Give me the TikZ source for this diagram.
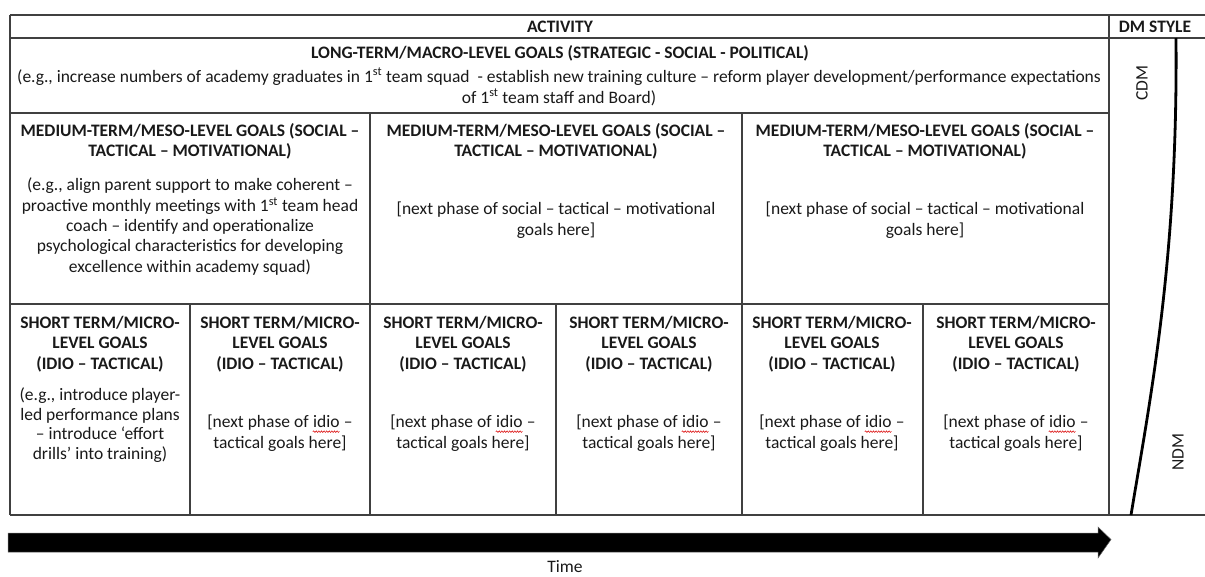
\documentclass[tikz,border=0pt]{standalone}
\usepackage{fontspec}
\setmainfont{Carlito}
\usetikzlibrary{decorations.pathmorphing}
\newcommand\rwave[1]{\tikz[baseline=0pt,x=1pt,y=1pt]{\node[inner sep=0pt,anchor=base west] (w) at (0,0) {#1};\draw[red!85!black,line width=0.5pt,decorate,decoration={snake,amplitude=0.8pt,segment length=2.6pt}] ([yshift=-3.8pt]w.base west) -- ([yshift=-3.8pt]w.base east);}}
\newcommand\fs{\fontsize{17.5}{20.3}\selectfont}
\begin{document}
\begin{tikzpicture}[x=1pt,y=-1pt,
  grid/.style={draw=black!75, line width=1.2pt},
  txt/.style={inner sep=0pt, align=center, anchor=north, font=\fs, text=black!90},
  btxt/.style={txt, font=\fs\bfseries},
  dmcurve/.style={line width=2.8pt, black},
  timearrow/.style={fill=black, draw=black!60, line width=0.5pt}]
\useasboundingbox (0,0) rectangle (1205,576);
% grid
\draw[grid] (10,15) -- (1210,15);
\draw[grid] (10,38) -- (1210,38);
\draw[grid] (10,113) -- (1109,113);
\draw[grid] (10,304) -- (1109,304);
\draw[grid] (10,515) -- (1210,515);
\draw[grid] (10,15) -- (10,515);
\draw[grid] (1109,15) -- (1109,515);
\draw[grid] (370,113) -- (370,515);
\draw[grid] (742,113) -- (742,515);
\draw[grid] (190,304) -- (190,515);
\draw[grid] (556,304) -- (556,515);
\draw[grid] (923,304) -- (923,515);
% header
\node[btxt] (act) at (560,20.5) {ACTIVITY};
\node[btxt] (dm) at (1155,20.5) {DM STYLE};
% long term
\node[btxt] (lt) at (560,45.5) {LONG-TERM/MACRO-LEVEL GOALS (STRATEGIC - SOCIAL - POLITICAL)};
\node[txt, font=\fontsize{17.5}{21}\selectfont] (ltb) at (559,68) {(e.g., increase numbers of academy graduates in 1\textsuperscript{st} team squad\ \ - establish new training culture -- reform player development/performance expectations\\ of 1\textsuperscript{st} team staff and Board)};
% medium
\foreach \cx/\nm in {190/m1,556/m2,925/m3}{
  \node[btxt] (\nm) at (\cx,123) {MEDIUM-TERM/MESO-LEVEL GOALS (SOCIAL --\\ TACTICAL -- MOTIVATIONAL)};
}
\node[txt] (m1b) at (190,178) {(e.g., align parent support to make coherent --\\ proactive monthly meetings with 1\textsuperscript{st} team head\\ coach -- identify and operationalize\\ psychological characteristics for developing\\ excellence within academy squad)};
\node[txt] (m2b) at (556,202) {[next phase of social -- tactical -- motivational\\ goals here]};
\node[txt] (m3b) at (925,202) {[next phase of social -- tactical -- motivational\\ goals here]};
% short
\foreach \cx/\nm in {100/s1,280/s2,463/s3,649/s4,832/s5,1016/s6}{
  \node[btxt] (\nm) at (\cx,316) {SHORT TERM/MICRO-\\ LEVEL GOALS\\ (IDIO -- TACTICAL)};
}
\node[txt, font=\fontsize{17.5}{19.5}\selectfont] (s1b) at (100,388) {(e.g., introduce player-\\ led performance plans\\ -- introduce ‘effort\\ drills’ into training)};
\foreach \cx/\nm in {280/s2b,463/s3b,649/s4b,832/s5b,1016/s6b}{
  \node[txt] (\nm) at (\cx,415) {[next phase of \rwave{idio} --\\ tactical goals here]};
}
% DM style
\node[txt, anchor=center, rotate=90] (cdm) at (1142,83) {CDM};
\node[txt, anchor=center, rotate=90] (ndm) at (1178,452) {NDM};
\coordinate (ctop) at (1176,38);
\coordinate (cbot) at (1131,515);
\draw[dmcurve] (ctop) .. controls (1178,260) and (1150,400) .. (cbot);
% time arrow
\coordinate (ta) at (8,539.5);
\coordinate (tb) at (1111,539.5);
\fill[timearrow] (ta) ++(0,-6.5) -- ++(1090,0) -- ++(0,-6) -- (tb) -- ++(-13,18.5) -- ++(0,-6) -- ++(-1090,0) -- cycle;
\node[txt, anchor=center] (time) at (565,567) {Time};
\end{tikzpicture}
\end{document}
